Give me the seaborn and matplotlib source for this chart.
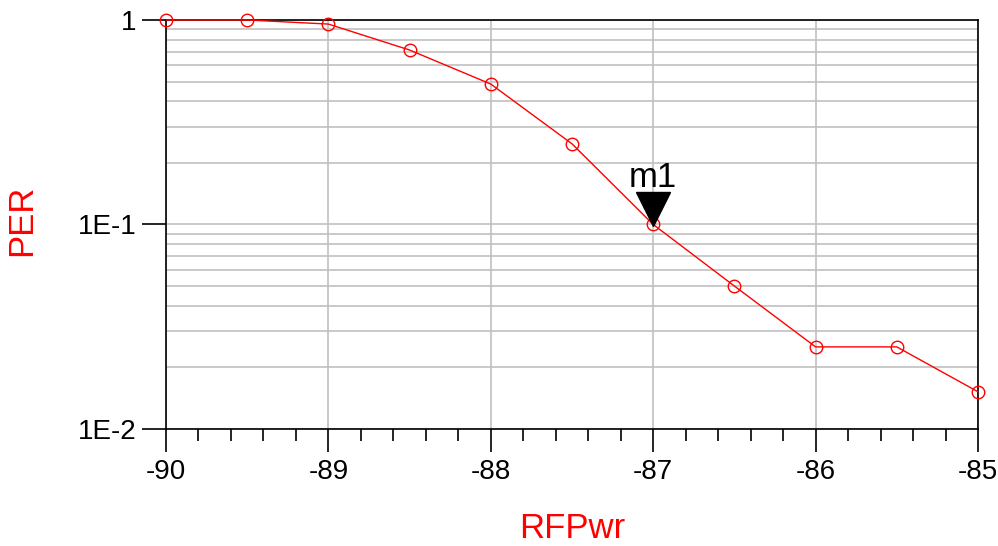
import numpy as np
import pandas as pd
import matplotlib
matplotlib.use('Agg')
import matplotlib.pyplot as plt
import matplotlib.ticker as mticker
import matplotlib.transforms as mtransforms
import seaborn as sns

# Values
rf_pwr = [-90.0, -89.5, -89.0, -88.5, -88.0, -87.5, -87.0, -86.5, -86.0, -85.5, -85.0]
per = [1.0, 1.0, 0.955, 0.713, 0.486, 0.248, 0.1, 0.05, 0.0252, 0.0252, 0.0152]
y_ticks = [0.01, 0.1, 1.0]
y_tick_labels = ['1E-2', '1E-1', '1']
x_ticks = [-90, -89, -88, -87, -86, -85]
marker_name = 'm1'
marker_x = -87.0
marker_y = 0.1


def main():
    sns.set_style('white')
    plt.rcParams['font.family'] = ['Liberation Sans', 'DejaVu Sans']
    plt.rcParams['axes.unicode_minus'] = False

    fig = plt.figure(figsize=(9.98, 5.46), dpi=100)
    ax = fig.add_axes([0.1663, 0.2143, 0.8137, 0.7491])

    df = pd.DataFrame({'RFPwr': rf_pwr, 'PER': per})
    sns.lineplot(data=df, x='RFPwr', y='PER', ax=ax, color='#ff0000',
                 linewidth=1.0, marker='o', markersize=9,
                 markerfacecolor='none', markeredgecolor='#ff0000',
                 markeredgewidth=1.0, clip_on=False, zorder=5)

    ax.set_yscale('log')
    ax.set_xlim(-90, -85)
    ax.set_ylim(0.01, 1.0)

    ax.yaxis.set_major_locator(mticker.FixedLocator(y_ticks))
    ax.yaxis.set_major_formatter(mticker.FixedFormatter(y_tick_labels))
    ax.yaxis.set_minor_locator(mticker.LogLocator(base=10, subs=np.arange(2, 10)))
    ax.yaxis.set_minor_formatter(mticker.NullFormatter())
    ax.xaxis.set_major_locator(mticker.FixedLocator(x_ticks))
    ax.xaxis.set_minor_locator(mticker.MultipleLocator(0.2))

    ax.grid(True, which='major', axis='x', color='#c0c0c0', linewidth=1.2)
    ax.grid(True, which='both', axis='y', color='#c0c0c0', linewidth=1.2)

    ax.tick_params(axis='x', which='major', bottom=True, direction='out',
                   length=16.5, width=1.2, labelsize=20, pad=5, colors='black')
    ax.tick_params(axis='x', which='minor', bottom=True, direction='out',
                   length=8.6, width=1.2, colors='black')
    ax.tick_params(axis='y', which='major', left=True, direction='out',
                   length=17, width=1.2, labelsize=20, pad=4, colors='black')
    ax.tick_params(axis='y', which='minor', left=False, length=0)

    for side in ['left', 'right', 'top', 'bottom']:
        ax.spines[side].set_visible(True)
        ax.spines[side].set_color('black')
        ax.spines[side].set_linewidth(1.2)

    ax.set_xlabel('RFPwr', color='#ff0000', fontsize=25)
    ax.set_ylabel('PER', color='#ff0000', fontsize=25)
    ax.xaxis.set_label_coords(0.5, -0.203)
    ax.yaxis.set_label_coords(-0.157, 0.51)

    # marker triangle with its apex on the data point
    tri_trans = mtransforms.offset_copy(ax.transData, fig=fig, x=0, y=11.5,
                                        units='points')
    ax.plot([marker_x], [marker_y], marker='v', markersize=24, color='black',
            linestyle='none', transform=tri_trans, zorder=6, clip_on=False)
    ax.annotate(marker_name, xy=(marker_x, marker_y), xytext=(0, 27),
                textcoords='offset points', ha='center', va='baseline',
                fontsize=25, color='black', zorder=7)

    fig.savefig('out.png', dpi=100)
    plt.close(fig)


if __name__ == '__main__':
    main()
